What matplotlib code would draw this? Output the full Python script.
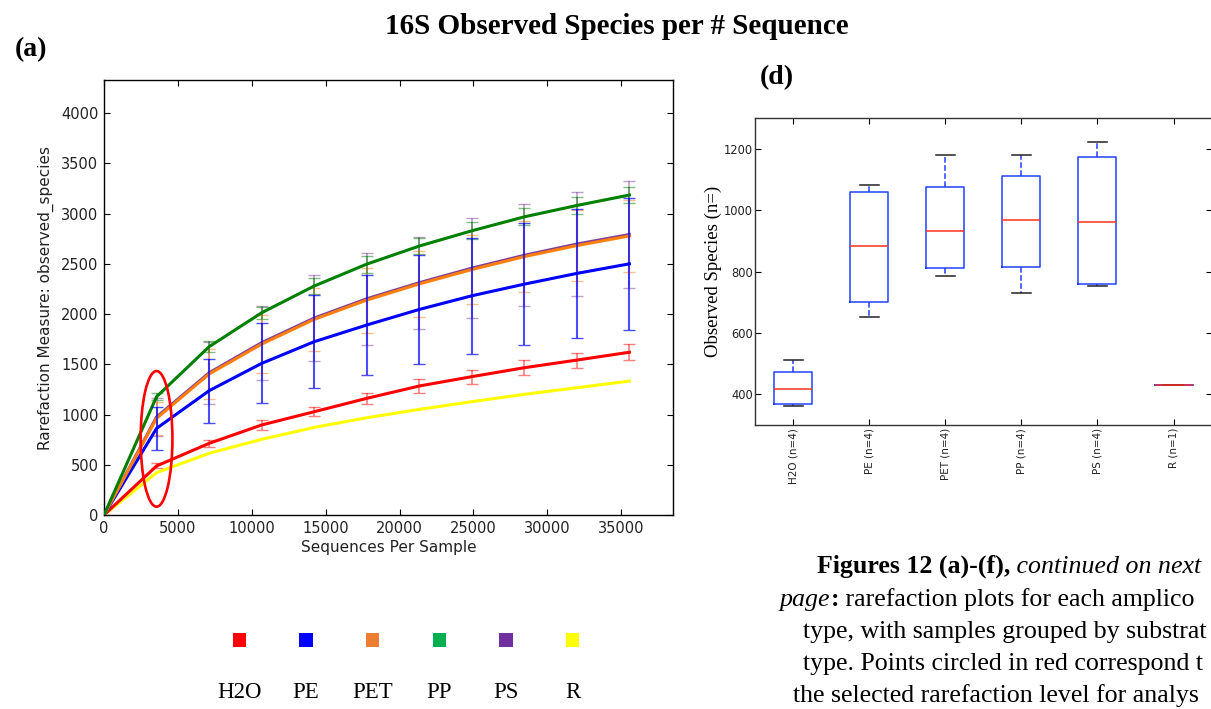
import matplotlib
matplotlib.use("Agg")
import matplotlib.pyplot as plt
from matplotlib.patches import Ellipse
import numpy as np

# ---------------- data: (a) rarefaction curves ----------------
depths = [0, 3555, 7110, 10665, 14220, 17775, 21330, 24885, 28440, 31995, 35550]

h2o    = [0, 488, 713, 896, 1028, 1161, 1284, 1377, 1466, 1542, 1620]
h2o_sd = [0, 25, 35, 45, 45, 55, 65, 70, 75, 75, 80]
pe     = [0, 862, 1237, 1509, 1725, 1891, 2046, 2182, 2298, 2405, 2500]
pe_sd  = [0, 215, 318, 398, 465, 498, 544, 580, 606, 641, 656]
pet    = [0, 962, 1403, 1701, 1947, 2139, 2300, 2443, 2572, 2682, 2778]
pet_sd = [0, 166, 252, 291, 315, 323, 332, 343, 353, 352, 357]
pp     = [0, 1177, 1675, 2013, 2279, 2497, 2677, 2829, 2968, 3081, 3185]
pp_sd  = [0, 35, 55, 60, 80, 85, 83, 85, 85, 80, 80]
ps     = [0, 975, 1415, 1715, 1960, 2152, 2312, 2457, 2585, 2697, 2792]
ps_sd  = [0, 190, 310, 370, 430, 460, 456, 498, 506, 522, 528]
r      = [0, 421, 614, 753, 872, 968, 1051, 1128, 1201, 1267, 1333]

# legend
legend_names  = ["H2O", "PE", "PET", "PP", "PS", "R"]
legend_colors = ["#FF0000", "#0000FF", "#ED7D31", "#00B050", "#7030A0", "#FFFF00"]

# ---------------- data: (d) box plot ----------------
box_labels = ["H2O (n=4)", "PE (n=4)", "PET (n=4)", "PP (n=4)", "PS (n=4)", "R (n=1)"]
whislo = [362, 653, 786, 729, 754, 429]
q1     = [368, 700, 813, 816, 761, 429]
med    = [416, 884, 933, 969, 961, 429]
q3     = [474, 1061, 1077, 1113, 1175, 429]
whishi = [511, 1084, 1179, 1181, 1222, 429]

# selected rarefaction level (circled)
selected_depth = depths[1]
selected_center = 758

W, H = 1211, 709
fig = plt.figure(figsize=(W / 100, H / 100), dpi=100)

def px_rect(l, t, r_, b):
    return [l / W, 1 - b / H, (r_ - l) / W, (b - t) / H]

SERIF = "Liberation Serif"
TICKCOL = "#222222"

# ---------------- panel (a) ----------------
ax = fig.add_axes(px_rect(104, 80, 673, 515))
series = [
    ("R", r, None, "#FFFF00"),
    ("H2O", h2o, h2o_sd, "#FF0000"),
    ("PE", pe, pe_sd, "#0000FF"),
    ("PS", ps, ps_sd, "#7F3F98"),
    ("PET", pet, pet_sd, "#FF7F0E"),
    ("PP", pp, pp_sd, "#008000"),
]
for name, vals, sd, col in series:
    ax.plot(depths, vals, color=col, lw=2.2, zorder=3)
for name, vals, sd, col in series:
    if sd is None:
        continue
    if name == "PE":
        z, a, lw = 4, 0.7, 1.5
    else:
        z, a, lw = 2.5, 0.5, 1.2
    ax.errorbar(depths[1:], vals[1:], yerr=sd[1:], fmt="none", ecolor=col,
                elinewidth=lw, capsize=4, capthick=1, alpha=a, zorder=z)

ell = Ellipse((selected_depth, selected_center), width=2150, height=1350,
              fill=False, edgecolor="#FF0000", lw=1.9, zorder=6)
ax.add_patch(ell)

ax.set_xlim(0, 38500)
ax.set_ylim(0, 4330)
ax.set_xticks(np.arange(0, 35001, 5000))
ax.set_yticks(np.arange(0, 4001, 500))
ax.tick_params(direction="in", top=True, right=True, length=4, width=0.8,
               labelsize=10.5, labelcolor=TICKCOL, pad=4)
for s in ax.spines.values():
    s.set_linewidth(1.0)
ax.set_xlabel("Sequences Per Sample", fontsize=11, color=TICKCOL, labelpad=3)
ax.set_ylabel("Rarefaction Measure: observed_species", fontsize=11, color=TICKCOL, labelpad=5)

# ---------------- legend (squares above labels) ----------------
lax = fig.add_axes(px_rect(206, 625, 606, 705))
xpos = np.arange(len(legend_names))
lax.scatter(xpos, np.ones(len(xpos)), marker="s", s=90, c=legend_colors, linewidths=0)
for xp, nm in zip(xpos, legend_names):
    lax.text(xp, -0.05, nm, ha="center", va="center", fontsize=16.5, family=SERIF)
lax.set_xlim(-0.5, len(legend_names) - 0.5)
lax.set_ylim(-0.3, 1.3)
lax.axis("off")

# ---------------- panel (d) ----------------
bx = fig.add_axes(px_rect(755, 118.3, 1211.6, 425))
stats = []
for i in range(len(box_labels)):
    stats.append(dict(whislo=whislo[i], q1=q1[i], med=med[i], q3=q3[i],
                      whishi=whishi[i], fliers=[], label=box_labels[i]))
bx.bxp(stats, positions=np.arange(1, len(box_labels) + 1), widths=0.5,
       showfliers=False,
       boxprops=dict(color="#2040FF", lw=1.1),
       whiskerprops=dict(color="#2040FF", lw=1.1, ls="--"),
       capprops=dict(color="#222222", lw=1.1),
       medianprops=dict(color="#FF3020", lw=1.1))
bx.set_xlim(0.5, len(box_labels) + 0.5)
bx.set_ylim(300, 1300)
bx.set_yticks([400, 600, 800, 1000, 1200])
bx.set_xticklabels(box_labels, rotation=90)
bx.tick_params(direction="in", top=True, right=True, length=4, width=0.8,
               labelsize=7.5, labelcolor=TICKCOL, pad=2)
bx.tick_params(axis="y", labelsize=8.3, pad=1.5)
for s in bx.spines.values():
    s.set_linewidth(1.0)
    s.set_color("#333333")
bx.set_ylabel("Observed Species (n=)", fontsize=13.5, family=SERIF, labelpad=1)

# ---------------- titles / panel labels ----------------
fig.text(617 / W, 1 - 26 / H, "16S Observed Species per # Sequence", ha="center", va="center",
         fontsize=21, fontweight="bold", family=SERIF)
fig.text(15 / W, 1 - 50 / H, "(a)", ha="left", va="center", fontsize=20,
         fontweight="bold", family=SERIF)
fig.text(760 / W, 1 - 78 / H, "(d)", ha="left", va="center", fontsize=20,
         fontweight="bold", family=SERIF)

# ---------------- caption (as visible; cut by the page edge) ----------------
caption = [
    (817, 573, [("Figures 12 (a)-(f),", "bold", "normal"), (" continued on next", "normal", "italic")]),
    (780, 606, [("page", "normal", "italic"), (":", "bold", "normal"),
                (" rarefaction plots for each amplico", "normal", "normal")]),
    (803, 638, [("type, with samples grouped by substrat", "normal", "normal")]),
    (803, 670, [("type. Points circled in red correspond t", "normal", "normal")]),
    (793, 702, [("the selected rarefaction level for analys", "normal", "normal")]),
]
renderer = fig.canvas.get_renderer()
for x0, yb, pieces in caption:
    xcur = x0
    for txt, wt, st in pieces:
        t = fig.text(xcur / W, 1 - yb / H, txt, ha="left", va="baseline", fontsize=18.6,
                     family=SERIF, fontweight=wt, fontstyle=st)
        bb = t.get_window_extent(renderer=renderer)
        xcur += bb.width

fig.savefig("out.png", dpi=100)
